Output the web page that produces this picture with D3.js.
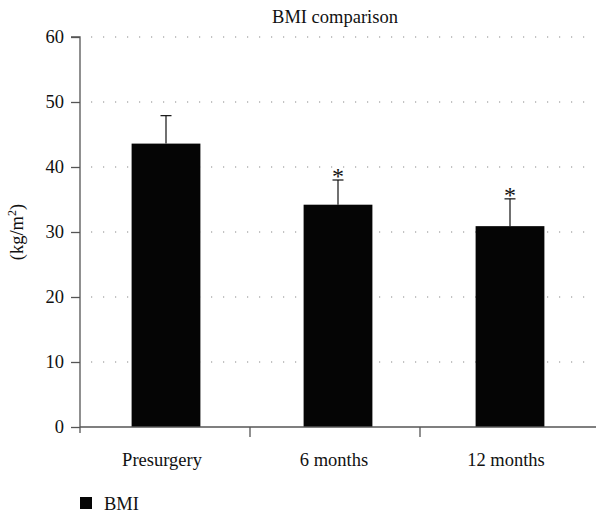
<!DOCTYPE html>
<html><head><meta charset="utf-8">
<script src="https://cdn.jsdelivr.net/npm/d3@7"></script>
<style>body{margin:0;background:#fff}svg{display:block}text{font-family:"Liberation Serif","DejaVu Serif",serif;fill:#111}</style>
</head><body><svg id="c" width="596" height="514"></svg>
<script>
const categories = ["Presurgery", "6 months", "12 months"];
const bmiMean = [43.6, 34.2, 30.9];
const bmiErrTop = [47.9, 38.0, 35.1];
const significant = [false, true, true];
const yTicks = [0, 10, 20, 30, 40, 50, 60];
const title = "BMI comparison";
const seriesName = "BMI";

const FS = 18.5;
const svg = d3.select("#c");
const x0 = 80, x1 = 596, yTop = 37, yBot = 427;
const x = d3.scaleBand().domain(categories).range([x0, x1]).paddingInner(0.6).paddingOuter(0.3);
const y = d3.scaleLinear().domain([0, 60]).range([yBot, yTop]);

// grid
svg.append("g").selectAll("line").data(yTicks.filter(d => d > 0)).join("line")
  .attr("x1", x0 + 11).attr("x2", 592)
  .attr("y1", d => y(d)).attr("y2", d => y(d))
  .attr("stroke", "#888").attr("stroke-width", 1.2).attr("stroke-dasharray", "1.2,10.8");

// bars
svg.append("g").selectAll("rect").data(categories).join("rect")
  .attr("x", d => x(d)).attr("width", x.bandwidth())
  .attr("y", (d, i) => y(bmiMean[i])).attr("height", (d, i) => yBot - y(bmiMean[i]))
  .attr("fill", "#050505");

// error bars
const eb = svg.append("g").attr("stroke", "#111").attr("stroke-width", 1.2);
categories.forEach((c, i) => {
  const cx = x(c) + x.bandwidth() / 2;
  eb.append("line").attr("x1", cx).attr("x2", cx).attr("y1", y(bmiMean[i])).attr("y2", y(bmiErrTop[i]));
  eb.append("line").attr("x1", cx - 5.5).attr("x2", cx + 5.5).attr("y1", y(bmiErrTop[i])).attr("y2", y(bmiErrTop[i]));
  if (significant[i]) {
    svg.append("text").attr("x", cx).attr("y", y(bmiErrTop[i]) + 4).attr("text-anchor", "middle")
      .attr("font-size", 24).attr("fill", "#333").text("*");
  }
});

// y axis
const ya = svg.append("g").attr("transform", `translate(${x0},0)`)
  .call(d3.axisLeft(y).tickValues(yTicks).tickSize(9).tickPadding(7));
ya.select(".domain").attr("stroke", "#555").attr("stroke-width", 1.3).attr("d", `M-9,${yTop}H0V${yBot + 6}`);
ya.selectAll(".tick line").attr("stroke", "#555").attr("stroke-width", 1.3);
ya.selectAll(".tick text").attr("font-size", FS).attr("fill", "#111");

// x axis
const xa = svg.append("g").attr("transform", `translate(0,${yBot})`);
xa.append("line").attr("x1", x0).attr("x2", 596).attr("y1", 0).attr("y2", 0).attr("stroke", "#555").attr("stroke-width", 1.3);
const step = x.step();
[1, 2].forEach(k => {
  const tx = x0 + k * (step - 2);
  xa.append("line").attr("x1", tx).attr("x2", tx).attr("y1", 0).attr("y2", 10).attr("stroke", "#555").attr("stroke-width", 1.3);
});
xa.selectAll("text.cat").data(categories).join("text").attr("class", "cat")
  .attr("x", d => x(d) + x.bandwidth() / 2 - 4).attr("y", 39)
  .attr("text-anchor", "middle").attr("font-size", FS).text(d => d);

// title
svg.append("text").attr("x", 335).attr("y", 23).attr("text-anchor", "middle").attr("font-size", FS).text(title);

// y label
const yl = svg.append("text").attr("transform", `translate(23,232) rotate(-90)`).attr("text-anchor", "middle").attr("font-size", FS);
yl.append("tspan").text("(kg/m");
yl.append("tspan").attr("dy", -7).attr("font-size", 12).text("2");
yl.append("tspan").attr("dy", 7).text(")");

// legend
svg.append("rect").attr("x", 80).attr("y", 497).attr("width", 12).attr("height", 12).attr("fill", "#050505");
svg.append("text").attr("x", 104).attr("y", 510).attr("font-size", FS).text(seriesName);
</script></body></html>
